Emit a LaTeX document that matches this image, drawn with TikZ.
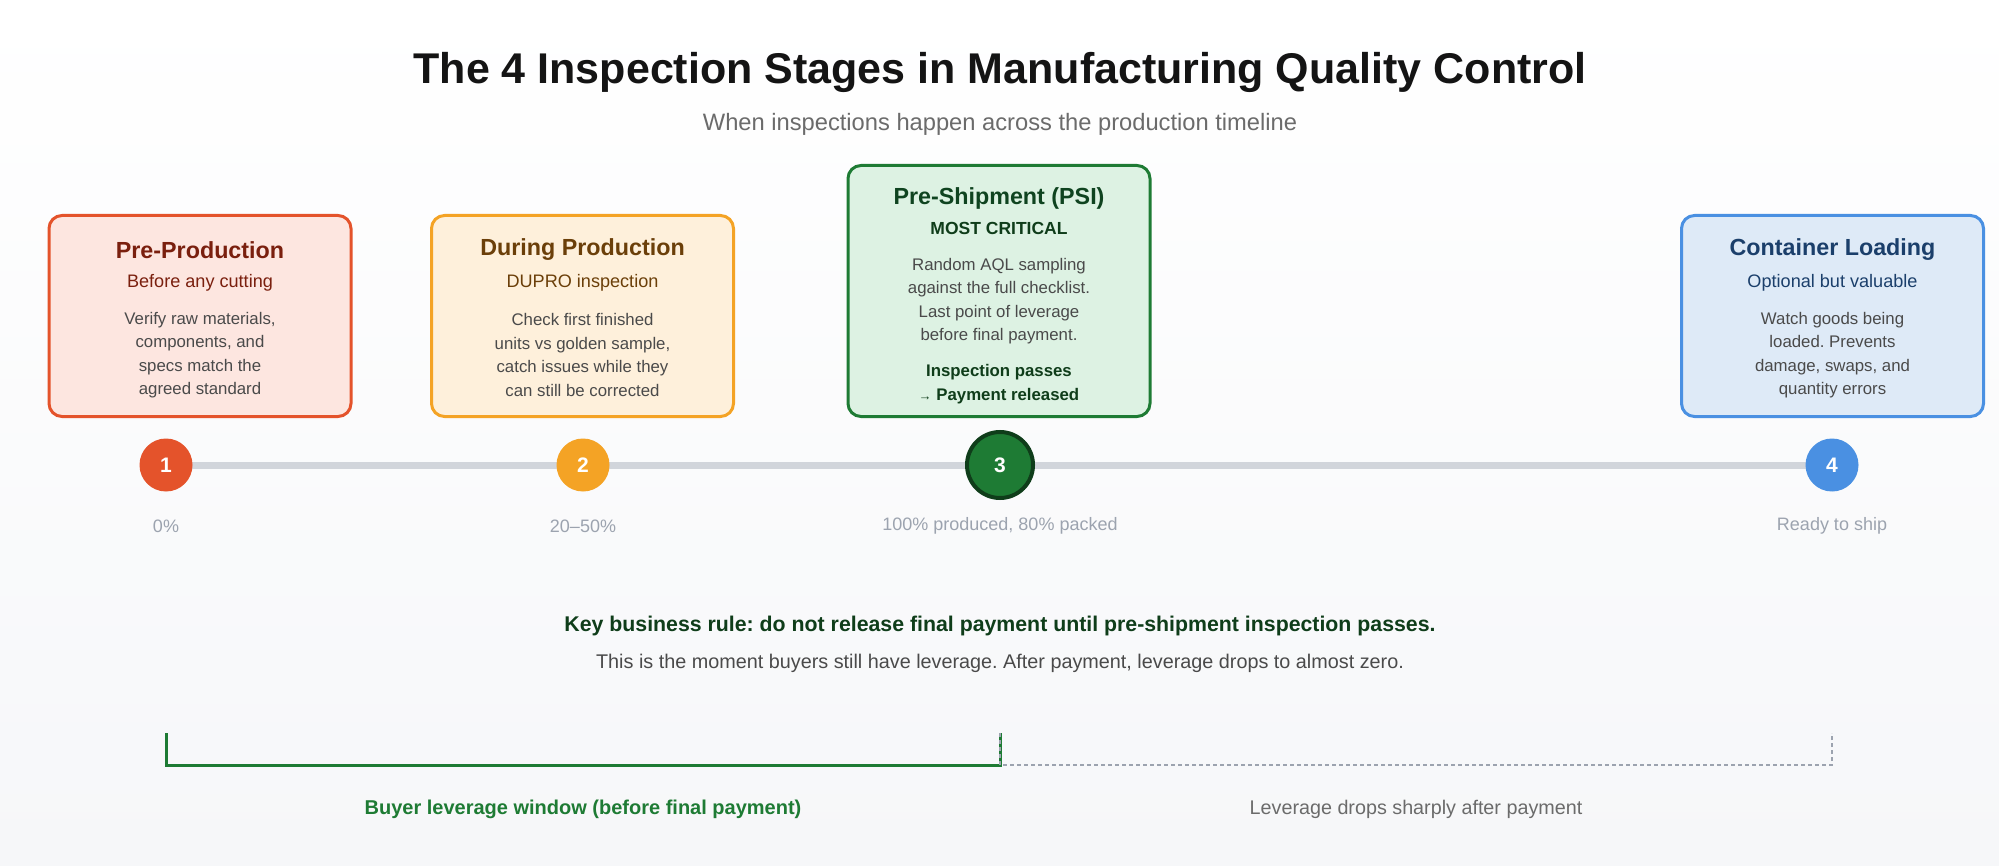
\documentclass[tikz,border=0pt]{standalone}
\usepackage{fontspec}
\setmainfont{Liberation Sans}
\frenchspacing
\usetikzlibrary{backgrounds}
\pgfdeclarelayer{canvas}
\pgfsetlayers{canvas,background,main}
\definecolor{bgbot}{HTML}{F6F7F9}
\definecolor{redB}{HTML}{E4532B}
\definecolor{redF}{HTML}{FDE6E0}
\definecolor{redT}{HTML}{7A1F0E}
\definecolor{orB}{HTML}{F4A325}
\definecolor{orF}{HTML}{FEF0DB}
\definecolor{orT}{HTML}{6B3F09}
\definecolor{grB}{HTML}{1E7B34}
\definecolor{grF}{HTML}{DDF2E3}
\definecolor{grT}{HTML}{0F4420}
\definecolor{grD}{HTML}{0F3D1A}
\definecolor{blB}{HTML}{4A90E2}
\definecolor{blF}{HTML}{DEEAF7}
\definecolor{blT}{HTML}{1B3F6B}
\definecolor{bodyC}{HTML}{4A4A4A}
\definecolor{lblC}{HTML}{9CA3AF}
\definecolor{lineC}{HTML}{D1D5DB}
\definecolor{titleC}{HTML}{141414}
\definecolor{subC}{HTML}{6B6B6B}
\definecolor{dashC}{HTML}{9CA3AF}
\tikzset{
  card/.style={draw, line width=3pt, rounded corners=13pt, minimum width=302pt, inner sep=0pt},
  ctitle/.style={font=\fontsize{23.3}{27}\selectfont\bfseries, inner sep=0pt},
  csub/.style={font=\fontsize{18.1}{21}\selectfont, inner sep=0pt},
  cbody/.style={font=\fontsize{16.8}{23.4}\selectfont, text=bodyC, align=center, inner sep=0pt},
  dot/.style={circle, minimum size=53pt, inner sep=0pt, text=white, font=\fontsize{21}{24}\selectfont\bfseries},
  lbl/.style={font=\fontsize{18}{21}\selectfont, text=lblC, inner sep=0pt},
}
\begin{document}
\begin{tikzpicture}[x=1pt,y=-1pt]
\begin{pgfonlayer}{canvas}
\shade[top color=white, bottom color=bgbot] (0,0) rectangle (1999,866);
\end{pgfonlayer}
\useasboundingbox (0,0) rectangle (1999,866);

\node[font=\fontsize{43}{48}\selectfont\bfseries, text=titleC, inner sep=0pt] (title) at (1000,72) {The 4 Inspection Stages in Manufacturing Quality Control};
\node[font=\fontsize{23.7}{28}\selectfont, text=subC, inner sep=0pt] (subtitle) at (1000,124) {When inspections happen across the production timeline};

% cards
\node[card, draw=redB, fill=redF, minimum height=201pt] (b1) at (200,316) {};
\node[card, draw=orB, fill=orF, minimum height=201pt] (b2) at (582.5,316) {};
\node[card, draw=grB, fill=grF, minimum height=251pt] (b3) at (999,291) {};
\node[card, draw=blB, fill=blF, minimum height=201pt] (b4) at (1832.5,316) {};

\node[ctitle, text=redT] (t1) at ([yshift=-36pt]b1.north) {Pre-Production};
\node[csub, text=redT] (s1) at ([yshift=-69pt]b1.north) {Before any cutting};
\node[cbody] (d1) at ([yshift=-141pt]b1.north) {Verify raw materials,\\components, and\\specs match the\\agreed standard};

\node[ctitle, text=orT] (t2) at ([yshift=-36pt]b2.north) {During Production};
\node[csub, text=orT] (s2) at ([yshift=-69pt]b2.north) {DUPRO inspection};
\node[cbody] (d2) at ([yshift=-141pt]b2.north) {Check first finished\\units vs golden sample,\\catch issues while they\\can still be corrected};

\node[ctitle, text=grT] (t3) at ([yshift=-34pt]b3.north) {Pre-Shipment (PSI)};
\node[csub, font=\fontsize{17.5}{21}\selectfont\bfseries, text=grD] (s3) at ([yshift=-64pt]b3.north) {MOST CRITICAL};
\node[cbody] (d3) at ([yshift=-137pt]b3.north) {Random AQL sampling\\against the full checklist.\\Last point of leverage\\before final payment.};
\node[cbody, font=\fontsize{16.8}{24}\selectfont\bfseries, text=grD] (p3) at ([yshift=-220pt]b3.north) {Inspection passes\\{\fontsize{13}{14}\selectfont→} Payment released};

\node[ctitle, text=blT] (t4) at ([yshift=-36pt]b4.north) {Container Loading};
\node[csub, text=blT] (s4) at ([yshift=-69pt]b4.north) {Optional but valuable};
\node[cbody] (d4) at ([yshift=-141pt]b4.north) {Watch goods being\\loaded. Prevents\\damage, swaps, and\\quantity errors};

% timeline
\node[dot, fill=redB] (c1) at (166,465) {1};
\node[dot, fill=orB] (c2) at (583,465) {2};
\node[dot, fill=grB, draw=grD, line width=4pt, minimum size=66pt] (c3) at (1000,465) {3};
\node[dot, fill=blB] (c4) at (1832,465) {4};
\begin{scope}[on background layer]
\draw[lineC, line width=7pt] (c1.center) -- (c4.center);
\end{scope}

\node[lbl] (l1) at (166,526) {0\%};
\node[lbl] (l2) at (583,526) {20–50\%};
\node[lbl] (l3) at (1000,526) {100\% produced, 80\% packed};
\node[lbl] (l4) at (1832,526) {Ready to ship};

% key rule
\node[font=\fontsize{21.3}{25}\selectfont\bfseries, text=grD, inner sep=0pt] (rule) at (1000,626) {Key business rule: do not release final payment until pre-shipment inspection passes.};
\node[font=\fontsize{19.8}{24}\selectfont, text=bodyC, inner sep=0pt] (rule2) at (1000,663) {This is the moment buyers still have leverage. After payment, leverage drops to almost zero.};

% leverage bracket
\coordinate (a0) at (166,733);
\coordinate (a1) at (166,765);
\coordinate (m1) at (1000,765);
\coordinate (m0) at (1000,733);
\coordinate (r1) at (1832,765);
\coordinate (r0) at (1832,733);
\draw[grB, line width=3pt] (a0) -- (a1) -- (m1) -- (m0);
\draw[dashC, line width=2.5pt, dash pattern=on 4pt off 3pt] (m0) -- (m1) -- (r1) -- (r0);

\node[font=\fontsize{20}{24}\selectfont\bfseries, text=grB, inner sep=0pt] (lw) at (583,809) {Buyer leverage window (before final payment)};
\node[font=\fontsize{19.75}{24}\selectfont, text=subC, inner sep=0pt] (ld) at (1416,809) {Leverage drops sharply after payment};
\end{tikzpicture}
\end{document}
